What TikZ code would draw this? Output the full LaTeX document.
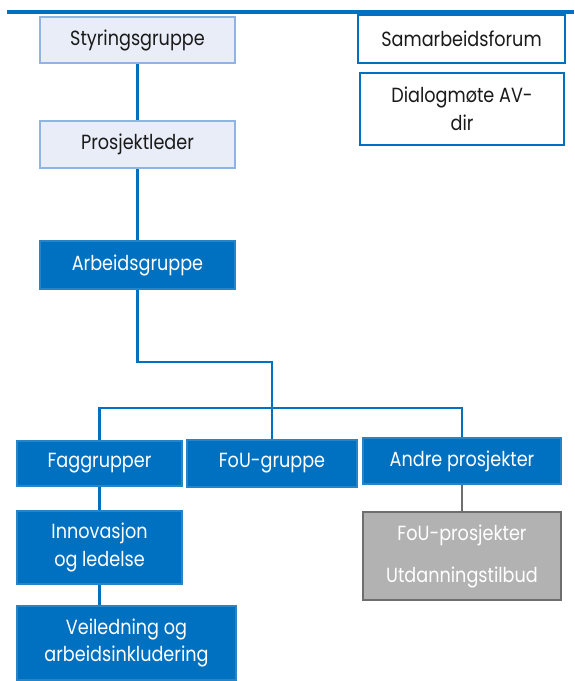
\documentclass[tikz,border=0pt]{standalone}
\usepackage{fontspec}
\setmainfont{Poppins}[FakeStretch=0.86]
\definecolor{dblue}{HTML}{0070C0}
\definecolor{lfill}{HTML}{E9EDF8}
\definecolor{lborder}{HTML}{8DB4E2}
\definecolor{gfill}{HTML}{B2B2B2}
\definecolor{gborder}{HTML}{6E6E6E}
\definecolor{txt}{HTML}{1A1A1A}
\begin{document}
\begin{tikzpicture}[x=1pt,y=-1pt,
  box/.style={minimum width=#1, inner sep=0pt, align=center,
    font=\fontsize{20.5}{27.5}\selectfont, line width=2pt},
  light/.style={box=#1, draw=lborder, fill=lfill, text=txt},
  dark/.style={box=#1, draw=dblue!85!white, fill=dblue, text=white},
  white/.style={box=#1, draw=dblue, fill=white, text=txt},
  grey/.style={box=#1, draw=gborder, fill=gfill, text=white},
  conn/.style={draw=dblue, line width=2.2pt},
  gconn/.style={draw=gborder, line width=2.2pt}]
\useasboundingbox (0,0) rectangle (574,681);
\coordinate (r1) at (7,12);
\coordinate (r2) at (574,12);
\draw[dblue, line width=3.5pt] (r1) -- (r2);
% top nodes
\node[light=195pt, minimum height=46pt] (sty) at (137.5,40) {Styringsgruppe};
\node[light=195pt, minimum height=47pt] (pl) at (137.5,144.5) {Prosjektleder};
\node[dark=195pt, minimum height=48pt] (ag) at (137.5,265) {Arbeidsgruppe};
\node[white=207pt, minimum height=48pt] (sam) at (461.5,39) {Samarbeidsforum};
\node[white=204pt, minimum height=72pt] (dia) at (462,109) {Dialogmøte AV-\\dir};
% middle row
\node[dark=165pt, minimum height=45pt] (fag) at (99.5,463.5) {Faggrupper};
\node[dark=170pt, minimum height=47pt] (fou) at (272,463.5) {FoU-gruppe};
\node[dark=198pt, minimum height=46pt] (andre) at (462,461) {Andre prosjekter};
% bottom
\node[dark=165pt, minimum height=73pt] (inn) at (99.5,547.5) {Innovasjon\\og ledelse};
\node[dark=219pt, minimum height=74pt] (vei) at (126.5,643) {Veiledning og\\arbeidsinkludering};
\node[grey=198pt, minimum height=88pt, font=\fontsize{20.5}{42}\selectfont] (fp) at (462,556) {FoU-prosjekter\\Utdanningstilbud};
% connectors
\coordinate (bend) at (0,362);
\coordinate (bus) at (0,408);
\draw[conn] (sty.south) -- (pl.north);
\draw[conn] (pl.south) -- (ag.north);
\draw[conn] (ag.south) -- (ag.south |- bend) -- (fou.north |- bend) -- (fou.north);
\draw[conn] (fag.north) -- (fag.north |- bus) -- (andre.north |- bus) -- (andre.north);
\draw[conn] (fag.south) -- (inn.north);
\draw[conn] (inn.south) -- (inn.south |- vei.north);
\draw[gconn] (andre.south) -- (fp.north);
\end{tikzpicture}
\end{document}
